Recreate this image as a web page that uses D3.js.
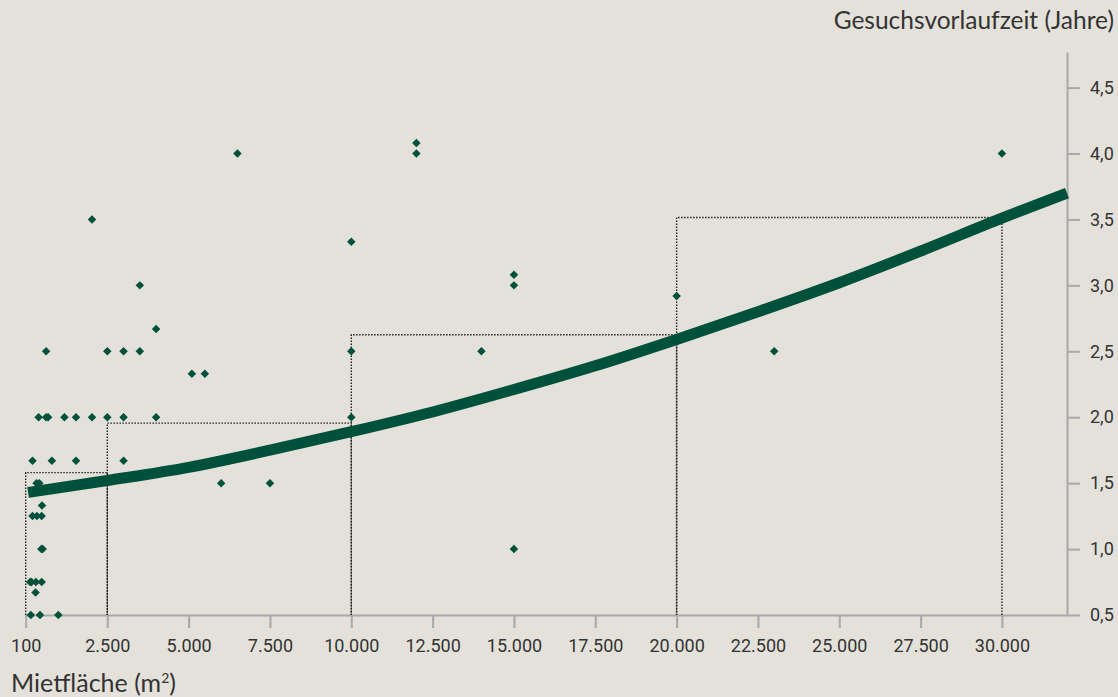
<!DOCTYPE html>
<meta charset="utf-8">
<style>
body { margin: 0; background: #e3e1d9; }
svg { display: block; }
.axis path, .axis line { stroke: #a9a9a9; stroke-width: 2px; }
.axis text { font-family: Roboto, sans-serif; font-size: 18px; fill: #333; }
.step { fill: none; stroke: #222; stroke-width: 1.4px; stroke-dasharray: 1.5,1.5; }
.trend { fill: none; stroke: #00513b; stroke-width: 11px; }
.dot { fill: #00513b; }
.label { font-family: Lato, sans-serif; fill: #333; }
</style>
<body></body>
<script src="https://cdn.jsdelivr.net/npm/d3@7"></script>
<script>

// rental area (m2) and lead time (years) for each request
var area  = [2050, 6500, 12000, 12000, 30000, 10000, 15000, 15000, 3500, 4000,
             700, 2500, 3000, 3500, 10000, 14000, 23000, 20000, 5100, 5500,
             480, 700, 760, 1240, 1580, 2050, 2500, 3000, 4000, 10000,
             300, 870, 1580, 3000, 420, 500, 6000, 7500, 580,
             300, 430, 570, 560, 600, 15000, 230, 270, 400, 570, 390,
             250, 520, 1060];
var years = [3.5, 4.0, 4.08, 4.0, 4.0, 3.33, 3.08, 3.0, 3.0, 2.67,
             2.5, 2.5, 2.5, 2.5, 2.5, 2.5, 2.5, 2.92, 2.33, 2.33,
             2.0, 2.0, 2.0, 2.0, 2.0, 2.0, 2.0, 2.0, 2.0, 2.0,
             1.67, 1.67, 1.67, 1.67, 1.5, 1.5, 1.5, 1.5, 1.33,
             1.25, 1.25, 1.25, 1.0, 1.0, 1.0, 0.75, 0.75, 0.75, 0.75, 0.67,
             0.5, 0.5, 0.5];

// trend curve
var trendX = [170, 2500, 5000, 7500, 10000, 12500, 15000, 17500, 20000, 22500, 25000, 27500, 30000, 32000];
var trendY = [1.43, 1.52, 1.62, 1.75, 1.89, 2.04, 2.21, 2.39, 2.59, 2.80, 3.02, 3.26, 3.51, 3.70];

// class bounds and class averages (dotted steps)
var stepBounds = [100, 2500, 10000, 20000, 30000];
var stepLevels = [1.58, 1.955, 2.625, 3.515];

var xTicks = [100, 2500, 5000, 7500, 10000, 12500, 15000, 17500, 20000, 22500, 25000, 27500, 30000];
var yTicks = [0.5, 1.0, 1.5, 2.0, 2.5, 3.0, 3.5, 4.0, 4.5];

var W = 1118, H = 697;

var svg = d3.select("body").append("svg")
    .attr("width", W)
    .attr("height", H);

svg.append("rect").attr("width", W).attr("height", H).attr("fill", "#e3e1d9");

// first segment (100 - 2.500) is drawn wider than the rest
var x = d3.scaleLinear().domain([100, 2500, 32000]).range([25.7, 107.3, 1067]);
var y = d3.scaleLinear().domain([0.5, 4.77]).range([615, 52]);

var de = d3.formatLocale({decimal: ",", thousands: ".", grouping: [3], currency: ["", " €"]});

svg.append("g")
    .attr("class", "axis")
    .attr("transform", "translate(0,615)")
    .call(d3.axisBottom(x).tickValues(xTicks).tickSize(13).tickSizeOuter(0).tickPadding(11)
        .tickFormat(de.format(",")));

svg.append("g")
    .attr("class", "axis")
    .attr("transform", "translate(1067,0)")
    .call(d3.axisRight(y).tickValues(yTicks).tickSize(13).tickSizeOuter(0).tickPadding(10)
        .tickFormat(de.format(".1f")));

// dotted steps
stepLevels.forEach(function(lv, i) {
    var p = d3.path();
    p.moveTo(x(stepBounds[i]), y(0.5));
    p.lineTo(x(stepBounds[i]), y(lv));
    p.lineTo(x(stepBounds[i + 1]), y(lv));
    p.lineTo(x(stepBounds[i + 1]), y(0.5));
    svg.append("path").attr("class", "step").attr("d", p.toString());
});

// points
var pts = area.map(function(a, i) { return {a: a, v: years[i]}; });
svg.selectAll(".dot")
    .data(pts)
    .enter().append("path")
    .attr("class", "dot")
    .attr("d", d3.symbol().type(d3.symbolSquare).size(36))
    .attr("transform", function(d) {
        return "translate(" + x(d.a) + "," + y(d.v) + ") rotate(45)";
    });

// trend line
var trend = trendX.map(function(t, i) { return [t, trendY[i]]; });
svg.append("path")
    .datum(trend)
    .attr("class", "trend")
    .attr("d", d3.line()
        .x(function(d) { return x(d[0]); })
        .y(function(d) { return y(d[1]); })
        .curve(d3.curveMonotoneX));

// axis titles
svg.append("text")
    .attr("class", "label")
    .attr("x", 1114)
    .attr("y", 29)
    .attr("text-anchor", "end")
    .style("font-size", "24.5px")
    .text("Gesuchsvorlaufzeit (Jahre)");

var xl = svg.append("text")
    .attr("class", "label")
    .attr("x", 11)
    .attr("y", 692)
    .style("font-size", "25px");
xl.append("tspan").text("Mietfläche (m");
xl.append("tspan").attr("dy", -9).style("font-size", "14px").text("2");
xl.append("tspan").attr("dy", 9).text(")");

</script>
